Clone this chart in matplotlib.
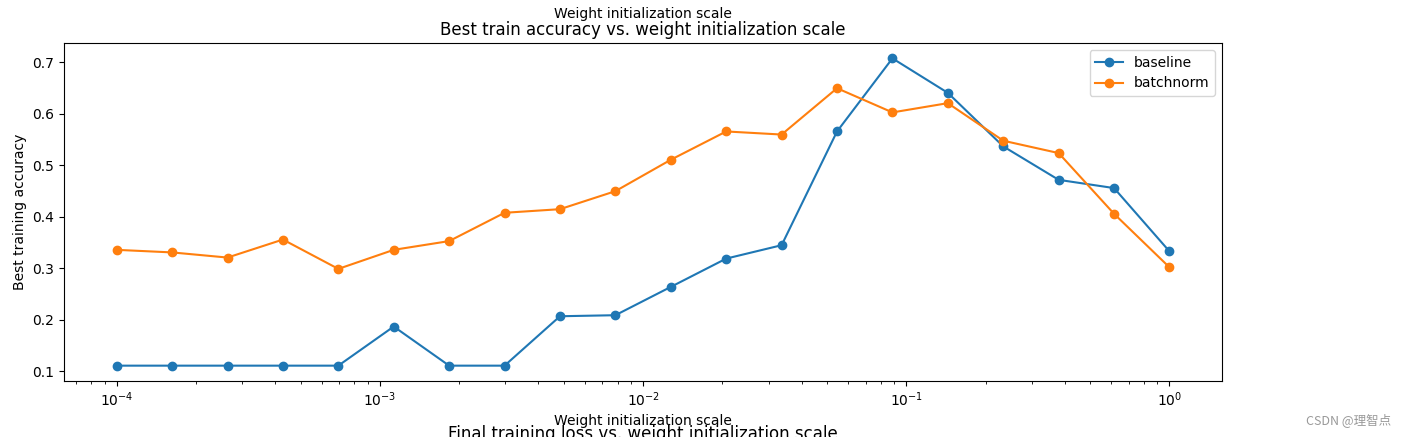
import numpy as np
import matplotlib
matplotlib.use("Agg")
import matplotlib.pyplot as plt

# weight scales tried (20 points, log spaced 1e-4 .. 1)
weightScales = np.logspace(-4, 0, num=20)

# best train accuracy
baselineAcc = [0.111, 0.111, 0.111, 0.111, 0.111, 0.187, 0.111, 0.111, 0.207, 0.209,
               0.264, 0.319, 0.345, 0.566, 0.708, 0.641, 0.537, 0.472, 0.456, 0.333]
batchnormAcc = [0.336, 0.331, 0.321, 0.356, 0.299, 0.336, 0.353, 0.408, 0.415, 0.450,
                0.511, 0.566, 0.560, 0.650, 0.603, 0.621, 0.548, 0.524, 0.406, 0.302]

fig = plt.figure(figsize=(14.14, 4.37), dpi=100)
ax = fig.add_axes([0.0453, 0.1281, 0.8190, 0.7735])

ax.semilogx(weightScales, baselineAcc, '-o', label='baseline')
ax.semilogx(weightScales, batchnormAcc, '-o', label='batchnorm')
ax.set_title('Best train accuracy vs. weight initialization scale')
ax.set_ylabel('Best training accuracy')
ax.legend(loc='upper right')

# pieces of the neighbouring subplots that show in the crop
fig.text(0.4547, 1 - 14 / 437, 'Weight initialization scale', ha='center', va='center', fontsize=10)
fig.text(0.4547, 1 - 421 / 437, 'Weight initialization scale', ha='center', va='center', fontsize=10)
fig.text(0.4547, 1 - 434 / 437, 'Final training loss vs. weight initialization scale',
         ha='center', va='center', fontsize=12)

# watermark
fig.text(0.954, 1 - 420 / 437, 'CSDN @理智点', ha='center', va='center', fontsize=9,
         color='#999999', family=['Noto Sans CJK SC', 'DejaVu Sans'])

fig.savefig('out.png', dpi=100)
